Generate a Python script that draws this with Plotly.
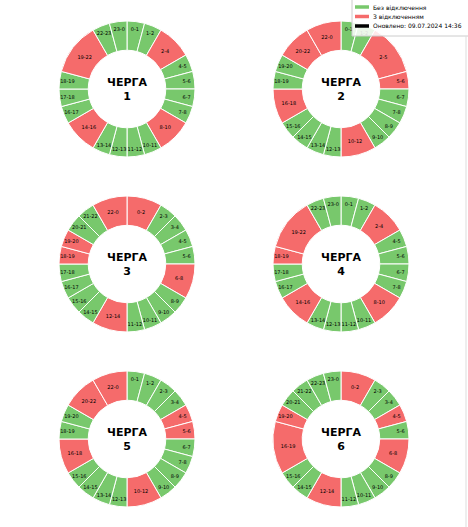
import plotly.graph_objects as go
import numpy as np

# межі інтервалів (години) та статус: 1 = з відключенням
Q1_HOURS = [0, 1, 2, 4, 5, 6, 7, 8, 10, 11, 12, 13, 14, 16, 17, 18, 19, 22, 23, 24]
Q1_OFF = [0, 0, 1, 0, 0, 0, 0, 1, 0, 0, 0, 0, 1, 0, 0, 0, 1, 0, 0]

Q2_HOURS = [0, 1, 2, 5, 6, 7, 8, 9, 10, 12, 13, 14, 15, 16, 18, 19, 20, 22, 24]
Q2_OFF = [0, 0, 1, 1, 0, 0, 0, 0, 1, 0, 0, 0, 0, 1, 0, 0, 1, 1]

Q3_HOURS = [0, 2, 3, 4, 5, 6, 8, 9, 10, 11, 12, 14, 15, 16, 17, 18, 19, 20, 21, 22, 24]
Q3_OFF = [1, 0, 0, 0, 0, 1, 0, 0, 0, 0, 1, 0, 0, 0, 0, 1, 1, 0, 0, 1]

Q4_HOURS = [0, 1, 2, 4, 5, 6, 7, 8, 10, 11, 12, 13, 14, 16, 17, 18, 19, 22, 23, 24]
Q4_OFF = [0, 0, 1, 0, 0, 0, 0, 1, 0, 0, 0, 0, 1, 0, 0, 1, 1, 0, 0]

Q5_HOURS = [0, 1, 2, 3, 4, 5, 6, 7, 8, 9, 10, 12, 13, 14, 15, 16, 18, 19, 20, 22, 24]
Q5_OFF = [0, 0, 0, 0, 1, 1, 0, 0, 0, 0, 1, 0, 0, 0, 0, 1, 0, 0, 1, 1]

Q6_HOURS = [0, 2, 3, 4, 5, 6, 8, 9, 10, 11, 12, 14, 15, 16, 19, 20, 21, 22, 23, 24]
Q6_OFF = [1, 0, 0, 1, 0, 1, 0, 0, 0, 0, 1, 0, 0, 1, 1, 0, 0, 0, 0]

QUEUES = [
    (1, Q1_HOURS, Q1_OFF),
    (2, Q2_HOURS, Q2_OFF),
    (3, Q3_HOURS, Q3_OFF),
    (4, Q4_HOURS, Q4_OFF),
    (5, Q5_HOURS, Q5_OFF),
    (6, Q6_HOURS, Q6_OFF),
]

LEGEND_NAMES = ['Без відключення', 'З відключенням', 'Оновлено: 09.07.2024 14:36']

GREEN = '#78c86c'
RED = '#f56b6b'

W, H = 468, 527
R = 68
CX = [127, 341]
CY = [89, 264, 439]

fig = go.Figure()

for i, (num, hours, off) in enumerate(QUEUES):
    cx = CX[i % 2]
    cy = CY[i // 2]
    hours = np.array(hours)
    values = np.diff(hours)
    labels = [f'{a}-{b % 24}' for a, b in zip(hours[:-1], hours[1:])]
    colors = [RED if s else GREEN for s in off]
    fig.add_trace(
        go.Pie(
            values=values,
            labels=labels,
            text=labels,
            textinfo='text',
            textposition='inside',
            insidetextorientation='horizontal',
            textfont=dict(size=5, color='black', family='DejaVu Sans'),
            marker=dict(colors=colors, line=dict(color='white', width=1)),
            hole=0.57,
            sort=False,
            direction='clockwise',
            rotation=0,
            showlegend=False,
            hoverinfo='label',
            domain=dict(
                x=[(cx - R) / W, (cx + R) / W],
                y=[1 - (cy + R) / H, 1 - (cy - R) / H],
            ),
        )
    )
    fig.add_annotation(
        x=cx / W, y=1 - cy / H, xref='paper', yref='paper',
        xanchor='center', yanchor='middle',
        text=f'<b>ЧЕРГА<br>{num}</b>', showarrow=False,
        font=dict(size=11, color='black', family='DejaVu Sans'),
    )

# легенда (вручну, щоб рядки були щільні)
fig.add_shape(type='rect', xref='paper', yref='paper',
              x0=352 / W, x1=1.01, y0=1 - 36 / H, y1=1.01,
              fillcolor='rgba(255,255,255,0.85)',
              line=dict(color='#cccccc', width=1), layer='above')
for k, (name, col) in enumerate(zip(LEGEND_NAMES, [GREEN, RED, 'black'])):
    y = 1 - (7 + 9.5 * k) / H
    fig.add_shape(type='line', xref='paper', yref='paper',
                  x0=355 / W, x1=369 / W, y0=y, y1=y,
                  line=dict(color=col, width=3.5), layer='above')
    fig.add_annotation(x=371 / W, y=y, xref='paper', yref='paper',
                       xanchor='left', yanchor='middle', showarrow=False,
                       text=name,
                       font=dict(size=6, color='black', family='DejaVu Sans'))

fig.add_shape(type='line', xref='paper', yref='paper',
              x0=466 / W, x1=466 / W, y0=0, y1=1 - 36 / H,
              line=dict(color='#dddddd', width=1))

fig.update_layout(
    width=W, height=H,
    margin=dict(l=0, r=0, t=0, b=0),
    paper_bgcolor='white',
    plot_bgcolor='white',
    showlegend=False,
)

fig.write_html('out.html', config={'displayModeBar': False},
               post_script="document.body.style.margin='0px';")
